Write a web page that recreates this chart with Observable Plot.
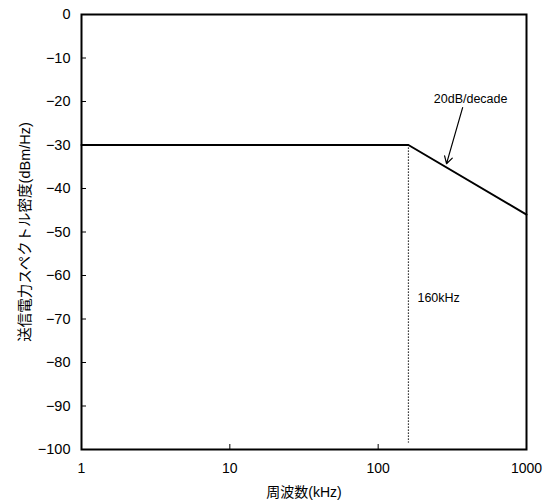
<!DOCTYPE html>
<html><head><meta charset="utf-8">
<script src="https://cdn.jsdelivr.net/npm/d3@7"></script>
<script src="https://cdn.jsdelivr.net/npm/@observablehq/plot@0.6"></script>
<style>
body{margin:0;background:#fff;}
svg{font-family:"Liberation Sans","Noto Sans CJK JP",sans-serif;}
</style></head>
<body><div id="chart"></div>
<script>
const freq = [1, 160, 1000];
const psd = [-30, -30, -46];
const xTicks = [1, 10, 100, 1000];
const yTicks = [0, -10, -20, -30, -40, -50, -60, -70, -80, -90, -100];
const cornerFreq = 160;
const dottedRange = [-30, -98.5];
const slopeLabel = "20dB/decade";
const slopeLabelPos = [420, -19.5];
const arrowFrom = [371, -21.4];
const arrowTo = [289, -34.3];
const cornerLabel = "160kHz";
const cornerLabelPos = [184, -65.1];
const xLabel = "周波数(kHz)";
const yLabel = "送信電力スペクトル密度(dBm/Hz)";

const line = freq.map((f, i) => ({f, p: psd[i]}));
const W = 543, H = 503, mL = 81, mR = 17, mT = 14, mB = 54;
const pw = W - mL - mR, ph = H - mT - mB;

const chart = Plot.plot({
  width: W, height: H,
  marginLeft: mL, marginRight: mR, marginTop: mT, marginBottom: mB,
  style: {fontSize: "14px", fontFamily: '"Liberation Sans","Noto Sans CJK JP",sans-serif', overflow: "visible"},
  x: {type: "log", domain: [1, 1000]},
  y: {domain: [-100, 0]},
  marks: [
    Plot.axisX(xTicks, {tickSize: 0, tickPadding: 14, tickFormat: d => String(d), label: xLabel, labelAnchor: "center", labelOffset: 47, labelArrow: "none", fontSize: 14}),
    Plot.axisY(yTicks, {tickSize: 0, tickPadding: 11, tickFormat: d => d === 0 ? "0" : "−" + Math.abs(d), label: yLabel, labelAnchor: "center", labelOffset: 62, labelArrow: "none", fontSize: 14.5}),
    Plot.tickY(yTicks, {y: d => d, insetRight: pw - 5, stroke: "black", strokeWidth: 1}),
    Plot.tickX(xTicks, {x: d => d, insetTop: ph - 5, stroke: "black", strokeWidth: 1}),
    Plot.ruleX([cornerFreq], {x: d => d, y1: dottedRange[0], y2: dottedRange[1], stroke: "black", strokeWidth: 1.2, strokeDasharray: "1.2,1.8"}),
    Plot.line(line, {x: "f", y: "p", stroke: "black", strokeWidth: 2}),
    Plot.arrow([0], {x1: () => arrowFrom[0], y1: () => arrowFrom[1], x2: () => arrowTo[0], y2: () => arrowTo[1], stroke: "black", strokeWidth: 1.2, headLength: 10}),
    Plot.text([slopeLabel], {x: () => slopeLabelPos[0], y: () => slopeLabelPos[1], text: d => d, fontSize: 12.5, textAnchor: "middle"}),
    Plot.text([cornerLabel], {x: () => cornerLabelPos[0], y: () => cornerLabelPos[1], text: d => d, fontSize: 12.5, textAnchor: "start"}),
    Plot.frame({stroke: "black", strokeWidth: 2})
  ]
});
document.getElementById("chart").appendChild(chart);
</script></body></html>
